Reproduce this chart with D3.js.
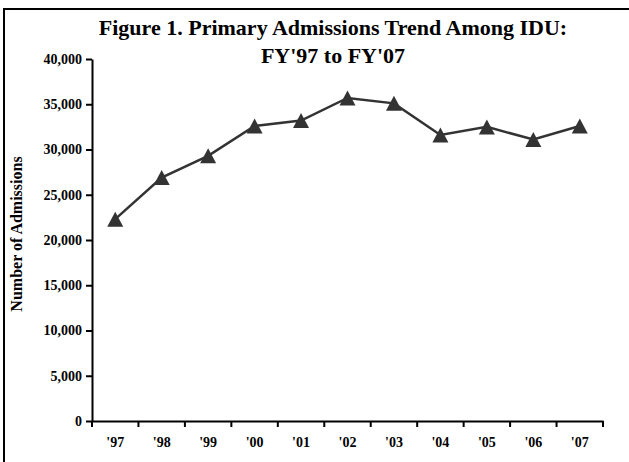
<!DOCTYPE html>
<html>
<head>
<meta charset="utf-8">
<script src="https://cdn.jsdelivr.net/npm/d3@7"></script>
<style>
  body { margin: 0; background: #fff; }
  text { font-family: "Liberation Serif", "Times New Roman", serif; font-weight: bold; fill: #000; }
  .axis path, .axis line { stroke: #000; stroke-width: 2px; }
</style>
</head>
<body>
<div id="chart"></div>
<script>
// datos
var years = ["'97", "'98", "'99", "'00", "'01", "'02", "'03", "'04", "'05", "'06", "'07"];
var admissions = [22300, 26900, 29300, 32600, 33200, 35700, 35100, 31600, 32500, 31100, 32600];
var yTicks = [0, 5000, 10000, 15000, 20000, 25000, 30000, 35000, 40000];
var titleLines = ["Figure 1. Primary Admissions Trend Among IDU:", "FY'97 to FY'07"];
var yLabel = "Number of Admissions";

// parametros de la grafica
var width = 629;
var height = 462;
var plotLeft = 92, plotRight = 603, plotTop = 59, plotBottom = 421;
var lineColor = "#333";

var svg = d3.select("#chart").append("svg")
  .attr("width", width)
  .attr("height", height);

// marco exterior
svg.append("rect")
  .attr("x", 4).attr("y", 9)
  .attr("width", 640).attr("height", 480)
  .attr("fill", "none")
  .attr("stroke", "#000")
  .attr("stroke-width", 2);

/* Scales */
var xScale = d3.scaleBand()
  .domain(years)
  .range([plotLeft, plotRight]);

var yScale = d3.scaleLinear()
  .domain([0, 40000])
  .range([plotBottom, plotTop]);

/* Title */
svg.append("g").selectAll("text")
  .data(titleLines).enter()
  .append("text")
  .attr("x", 333)
  .attr("y", (d, i) => 35 + i * 28)
  .attr("text-anchor", "middle")
  .style("font-size", "22px")
  .text(d => d);

/* Axis */
var yAxis = d3.axisLeft(yScale)
  .tickValues(yTicks)
  .tickFormat(d3.format(","))
  .tickSize(6)
  .tickSizeOuter(0)
  .tickPadding(4);

svg.append("g")
  .attr("class", "y axis")
  .attr("transform", `translate(${plotLeft}, 0)`)
  .call(yAxis)
  .selectAll("text")
  .style("font-size", "14px");

var xAxis = d3.axisBottom(xScale)
  .tickSize(0)
  .tickSizeOuter(0)
  .tickPadding(16);

var gx = svg.append("g")
  .attr("class", "x axis")
  .attr("transform", `translate(0, ${plotBottom})`)
  .call(xAxis);
gx.selectAll("text").style("font-size", "14px");

// marcas del eje x en los limites de cada categoria
var bounds = years.map(d => xScale(d)).concat([xScale.range()[1]]);
gx.selectAll(".bound")
  .data(bounds).enter()
  .append("line")
  .attr("class", "bound")
  .attr("x1", d => d).attr("x2", d => d)
  .attr("y1", 0).attr("y2", 6);

svg.append("text")
  .attr("transform", `translate(22, 234) rotate(-90)`)
  .attr("text-anchor", "middle")
  .style("font-size", "16px")
  .text(yLabel);

/* Line */
var line = d3.line()
  .x((d, i) => xScale(years[i]) + xScale.bandwidth() / 2)
  .y(d => yScale(d));

svg.append("path")
  .datum(admissions)
  .attr("d", line)
  .attr("fill", "none")
  .attr("stroke", lineColor)
  .attr("stroke-width", 2.5);

/* Triangles */
svg.append("g").selectAll("path")
  .data(admissions).enter()
  .append("path")
  .attr("transform", (d, i) => `translate(${xScale(years[i]) + xScale.bandwidth() / 2}, ${yScale(d)})`)
  .attr("d", "M0,-7.5L8,7.5L-8,7.5Z")
  .attr("fill", lineColor);
</script>
</body>
</html>
